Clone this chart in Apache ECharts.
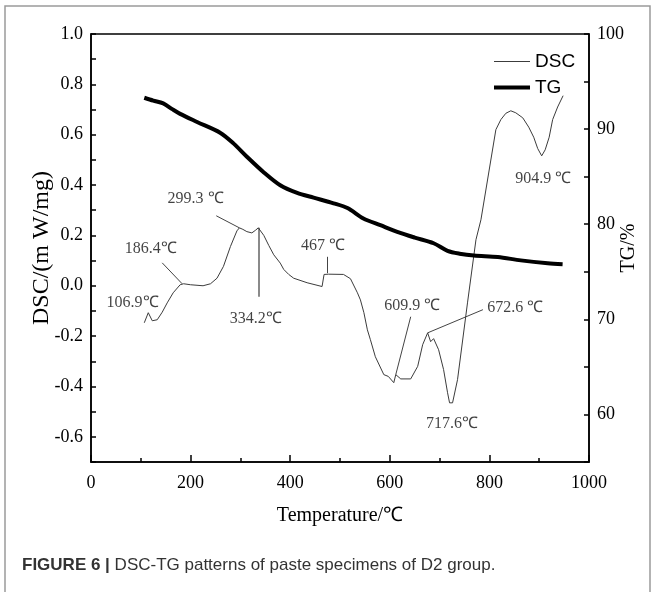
<!DOCTYPE html>
<html>
<head>
<meta charset="utf-8">
<script src="https://cdn.jsdelivr.net/npm/echarts@6/dist/echarts.min.js"></script>
<style>html,body{margin:0;padding:0;background:#fff;}#c{width:654px;height:592px;}</style>
</head>
<body>
<div id="c"></div>
<script>
// DSC curve (Temperature °C, mW/mg)
var dscT = [107,115,123,133,143,153,165,179,186,200,225,240,253,266,280,293,298,305,313,323,330,336,347,357,367,380,387,397,407,434,464,468,471,477,507,521,535,541,548,555,561,571,588,597,608,612,622,642,656,666,676,682,688,698,708,716,720,726,736,756,773,783,813,823,833,843,853,867,879,889,897,905,912,920,927,937,948];
var dscV = [-0.147,-0.107,-0.139,-0.135,-0.105,-0.068,-0.028,0.004,0.008,0.004,0.0,0.008,0.03,0.077,0.156,0.218,0.23,0.224,0.215,0.21,0.22,0.23,0.2,0.16,0.123,0.09,0.065,0.045,0.03,0.012,-0.003,0.045,0.05,0.046,0.045,0.028,-0.028,-0.056,-0.107,-0.175,-0.214,-0.282,-0.353,-0.36,-0.385,-0.353,-0.37,-0.37,-0.32,-0.234,-0.187,-0.222,-0.21,-0.254,-0.333,-0.425,-0.465,-0.465,-0.373,-0.068,0.183,0.262,0.62,0.66,0.685,0.695,0.687,0.667,0.63,0.59,0.545,0.516,0.54,0.59,0.66,0.71,0.755];
// TG curve (Temperature °C, %)
var tgT = [107,125,145,163,179,213,260,286,313,346,380,414,447,487,515,547,581,615,650,688,716,740,769,817,863,917,947];
var tgV = [93.3,93.0,92.7,92.1,91.6,90.75,89.6,88.5,87.1,85.5,84.1,83.3,82.8,82.2,81.7,80.6,79.9,79.2,78.6,78.0,77.2,76.9,76.7,76.55,76.2,75.9,75.8];
// Peak annotations
var annoText = ['106.9\u2103','186.4\u2103','299.3 \u2103','334.2\u2103','467 \u2103','609.9 \u2103','672.6 \u2103','717.6\u2103','904.9 \u2103'];
var annoT = [84.5,121,211,332,467,646,853,726,909];
var annoV = [-0.071,0.143,0.342,-0.135,0.155,-0.083,-0.091,-0.552,0.421];
// Leader lines [T1, V1, T2, V2]
var leaders = [[143,0.091,183,0.008],[251.5,0.278,298,0.23],[336,0.23,336,-0.044],[475,0.115,475,0.05],[642,-0.123,612,-0.353],[787,-0.095,676,-0.187]];
// Axis ticks
var xTicks = {min:0, max:1000, interval:200};
var yLeft = {min:-0.7, max:1.0, interval:0.1};
var yRight = {min:55, max:100, interval:5};

var serif = 'Liberation Serif';
var annoFont = 'Liberation Serif';
var legendFont = 'Liberation Sans';

var dscData = dscT.map(function(t,i){return [t, dscV[i]];});
var tgData = tgT.map(function(t,i){return [t, tgV[i]];});
var annoData = annoT.map(function(t,i){return [t, annoV[i], annoText[i]];});
var leaderData = leaders.map(function(l,i){
  var item = {coords:[[l[0],l[1]],[l[2],l[3]]]};
  if (i===2) item.lineStyle = {color:'#8a8a8a', width:2};
  return item;
});

var chart = echarts.init(document.getElementById('c'), null, {renderer:'canvas'});
chart.setOption({
  animation:false,
  backgroundColor:'#fff',
  grid:{left:91, right:65, top:34, bottom:130, containLabel:false, outerBoundsMode:'none',
        show:true, borderColor:'#000', borderWidth:1.5, backgroundColor:'transparent'},
  legend:[
    {data:['DSC'], left:489, top:47, orient:'vertical', icon:'rect', itemWidth:36, itemHeight:1.2,
     textStyle:{fontFamily:legendFont, fontSize:19, color:'#000'}},
    {data:['TG'], left:489, top:73, orient:'vertical', icon:'rect', itemWidth:36, itemHeight:4,
     textStyle:{fontFamily:legendFont, fontSize:19, color:'#000'}}
  ],
  xAxis:{type:'value', min:xTicks.min, max:xTicks.max, interval:xTicks.interval,
    name:'Temperature/\u2103', nameLocation:'middle', nameGap:44, nameMoveOverlap:false,
    nameTextStyle:{fontFamily:serif, fontSize:20, color:'#000'},
    axisLine:{show:true, onZero:false, lineStyle:{color:'#000', width:1.5}},
    axisTick:{show:true, inside:true, length:7, lineStyle:{color:'#000', width:1.5}},
    minorTick:{show:true, splitNumber:2, length:4, lineStyle:{color:'#000', width:1.5}},
    axisLabel:{margin:12, fontFamily:serif, fontSize:18, color:'#000', formatter:function(v){return String(v);}},
    splitLine:{show:false}},
  yAxis:[
    {type:'value', min:yLeft.min, max:yLeft.max, interval:yLeft.interval, position:'left',
     name:'DSC/(m W/mg)', nameLocation:'middle', nameGap:37, nameMoveOverlap:false,
     nameTextStyle:{fontFamily:serif, fontSize:24, color:'#000'},
     axisLine:{show:true, onZero:false, lineStyle:{color:'#000', width:1.5}},
     axisTick:{show:true, inside:true, length:5, lineStyle:{color:'#000', width:1.5}},
     axisLabel:{margin:8, fontFamily:serif, fontSize:18, color:'#000',
       formatter:function(v){var r=Math.round(v*10); return (r%2===0)?(r/10).toFixed(1):'';}},
     splitLine:{show:false}},
    {type:'value', min:yRight.min, max:yRight.max, interval:yRight.interval, position:'right',
     name:'TG/%', nameLocation:'middle', nameGap:30, nameRotate:90, nameMoveOverlap:false,
     nameTextStyle:{fontFamily:serif, fontSize:20, color:'#000'},
     axisLine:{show:true, onZero:false, lineStyle:{color:'#000', width:1.5}},
     axisTick:{show:true, inside:true, length:5, lineStyle:{color:'#000', width:1.5}},
     axisLabel:{margin:8, fontFamily:serif, fontSize:18, color:'#000',
       formatter:function(v){var r=Math.round(v); return (r%10===0)?String(r):'';}},
     splitLine:{show:false}}
  ],
  series:[
    {name:'DSC', type:'line', data:dscData, symbol:'none', xAxisIndex:0, yAxisIndex:0,
     itemStyle:{color:'#3c3c3c'}, lineStyle:{color:'#3c3c3c', width:1}},
    {name:'TG', type:'line', data:tgData, symbol:'none', smooth:0.3, xAxisIndex:0, yAxisIndex:1,
     itemStyle:{color:'#000'}, lineStyle:{color:'#000', width:4}},
    {name:'leaders', type:'lines', coordinateSystem:'cartesian2d', xAxisIndex:0, yAxisIndex:0,
     data:leaderData, lineStyle:{color:'#444', width:1, opacity:1}, symbol:'none', silent:true},
    {name:'annotations', type:'scatter', data:annoData, xAxisIndex:0, yAxisIndex:0,
     symbol:'circle', symbolSize:1, itemStyle:{color:'rgba(0,0,0,0)'}, silent:true,
     label:{show:true, position:[0,0], align:'center', verticalAlign:'middle',
       fontFamily:annoFont, fontSize:16, color:'#111', formatter:function(p){return p.value[2];}}}
  ],
  graphic:[
    {type:'rect', shape:{x:5, y:6, width:645, height:600}, style:{fill:'none', stroke:'#9a9a9a', lineWidth:1.5}, silent:true},
    {type:'text', left:22, top:557, style:{text:'{b|FIGURE 6 |} DSC-TG patterns of paste specimens of D2 group.',
      rich:{b:{fontWeight:'bold', fontFamily:'Liberation Sans', fontSize:17, fill:'#333'}},
      fontFamily:'Liberation Sans', fontSize:17, fill:'#333'}}
  ]
});
</script>
</body>
</html>
